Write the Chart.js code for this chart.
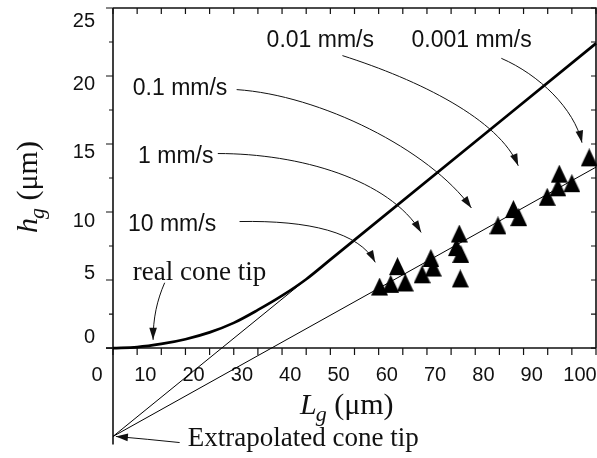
<!DOCTYPE html>
<html>
<head>
<meta charset="utf-8">
<script src="https://cdn.jsdelivr.net/npm/chart.js@4.4.1/dist/chart.umd.min.js"></script>
<style>
  html, body { margin: 0; padding: 0; background: #fff; overflow: hidden; }
  canvas { display: block; }
</style>
</head>
<body>
<canvas id="chart" width="597" height="458"></canvas>
<script>
// ── DATA ─────────────────────────────────────────────────────────────────────

const X_TICKS  = [0, 10, 20, 30, 40, 50, 60, 70, 80, 90, 100];
const X_MINOR  = [0, 5, 10, 15, 20, 25, 30, 35, 40, 45, 50, 55, 60, 65, 70, 75, 80, 85, 90, 95, 100];
const Y_TICKS  = [0, 5, 10, 15, 20, 25];
const Y_MINOR  = [0, 2.5, 5, 7.5, 10, 12.5, 15, 17.5, 20, 22.5, 25];

// measured groove length / height (triangles)
const POINTS_LG = [55.2, 57.5, 58.9, 60.5, 64.0, 65.8, 66.3, 71.1, 71.7, 72.0, 71.9, 79.7, 82.9, 84.0, 89.9, 92.1, 92.4, 95.0, 98.6];
const POINTS_HG = [ 4.3,  4.5,  5.8,  4.6,  5.2,  6.4,  5.7,  7.2,  8.2,  6.7,  4.9,  8.8, 10.0,  9.4, 10.9, 11.6, 12.6, 11.9, 13.8];

// real cone tip profile (thick line)
const CONE_LG = [0, 5,    10,  15,   20,   25,   30,  35,   40,   45,  100];
const CONE_HG = [0, 0.07, 0.3, 0.65, 1.15, 1.85, 2.8, 3.85, 5.06, 6.5, 22.4];

// thin construction lines from the extrapolated tip
const TANGENT_LG = [0, 44];
const TANGENT_HG = [-6.5, 6.2];
const FIT_LG = [0, 100];
const FIT_HG = [-6.5, 13.3];

// ── STYLE ────────────────────────────────────────────────────────────────────

const INK   = '#111';
const SANS  = '"Liberation Sans", Arial, sans-serif';
const SERIF = '"Liberation Serif", "Times New Roman", serif';
const Y_LABEL_SHIFT = [-5, -1, 15, 14, 14, 19];   // baseline offset from each tick, px

// annotations: text anchor and arrow bezier, both in data units
const NOTES = [
  { text: '0.01 mm/s',  font: '23px ' + SANS, at: [31.8, 22.1],
    arrow: [[47.5, 21.5], [63.4, 19.7], [80.0, 16.8], [83.9, 13.4]] },
  { text: '0.001 mm/s', font: '23px ' + SANS, at: [61.8, 22.1],
    arrow: [[80.4, 21.3], [88.2, 20.1], [95.5, 17.6], [97.1, 15.1]] },
  { text: '0.1 mm/s',   font: '23px ' + SANS, at: [4.1, 18.6],
    arrow: [[25.6, 19.0], [42.8, 18.6], [65.5, 14.6], [74.2, 10.3]] },
  { text: '1 mm/s',     font: '23px ' + SANS, at: [5.2, 13.6],
    arrow: [[21.7, 14.3], [38.6, 14.3], [57.2, 12.4], [63.8, 8.5]] },
  { text: '10 mm/s',    font: '23px ' + SANS, at: [3.1, 8.6],
    arrow: [[26.2, 9.3], [40.7, 9.4], [51.0, 8.5], [54.3, 6.3]] },
  { text: 'real cone tip', font: '27px ' + SERIF, at: [4.1, 5.0],
    arrow: [[10.7, 4.8], [9.1, 3.5], [8.3, 2.2], [8.3, 0.6]] },
  { text: 'Extrapolated cone tip', font: '27px ' + SERIF, at: [15.5, -7.2],
    arrow: [[13.8, -6.95], [9.4, -6.8], [5.0, -6.62], [0.6, -6.5]] },
];

function xy(xs, ys) { return xs.map((x, i) => ({ x, y: ys[i] })); }

// filled triangle marker, centroid at the canvas centre
function makeTriangle(w, h) {
  const c = document.createElement('canvas');
  c.width = w;
  c.height = Math.round(h * 4 / 3);
  const g = c.getContext('2d');
  g.fillStyle = '#000';
  g.beginPath();
  g.moveTo(w / 2, 0);
  g.lineTo(w, h);
  g.lineTo(0, h);
  g.closePath();
  g.fill();
  return c;
}

function drawArrow(ctx, pts) {
  const [a, b, c, d] = pts;
  ctx.beginPath();
  ctx.moveTo(a[0], a[1]);
  ctx.bezierCurveTo(b[0], b[1], c[0], c[1], d[0], d[1]);
  ctx.stroke();
  const ang = Math.atan2(d[1] - c[1], d[0] - c[0]);
  const L = 12, W = 3.8;
  ctx.beginPath();
  ctx.moveTo(d[0], d[1]);
  ctx.lineTo(d[0] - L * Math.cos(ang) + W * Math.sin(ang), d[1] - L * Math.sin(ang) - W * Math.cos(ang));
  ctx.lineTo(d[0] - L * Math.cos(ang) - W * Math.sin(ang), d[1] - L * Math.sin(ang) + W * Math.cos(ang));
  ctx.closePath();
  ctx.fill();
}

function drawTitle(ctx, x, y, main, sub, rest, size) {
  ctx.textAlign = 'left';
  ctx.textBaseline = 'alphabetic';
  ctx.font = `italic ${size}px ${SERIF}`;
  ctx.fillText(main, x, y);
  x += ctx.measureText(main).width - 1;
  ctx.font = `italic ${Math.round(size * 0.72)}px ${SERIF}`;
  ctx.fillText(sub, x, y + size * 0.22);
  x += ctx.measureText(sub).width;
  ctx.font = `${size}px ${SERIF}`;
  ctx.fillText(rest, x, y);
}

// ── frame, ticks, tick labels, titles
const framePlugin = {
  id: 'frame',
  beforeDatasetsDraw(chart) {
    const { ctx, chartArea: area, scales: { x, y } } = chart;
    const x0 = x.getPixelForValue(0), x1 = x.getPixelForValue(100);
    const yTop = y.getPixelForValue(25), y0 = y.getPixelForValue(0);
    ctx.save();
    ctx.strokeStyle = INK;
    ctx.fillStyle = INK;
    ctx.lineWidth = 1.6;
    ctx.beginPath();
    ctx.moveTo(x0, area.top); ctx.lineTo(x0, area.bottom);
    ctx.moveTo(x0, yTop); ctx.lineTo(x1, yTop); ctx.lineTo(x1, y0);
    ctx.moveTo(x0 - 7, y0); ctx.lineTo(x1, y0);
    ctx.stroke();

    ctx.lineWidth = 1.2;
    ctx.beginPath();
    X_MINOR.forEach(v => {
      const px = x.getPixelForValue(v);
      ctx.moveTo(px, yTop); ctx.lineTo(px, yTop + 6);
      ctx.moveTo(px, y0);   ctx.lineTo(px, y0 + 7);
    });
    Y_MINOR.forEach(v => {
      const py = y.getPixelForValue(v);
      ctx.moveTo(x0, py); ctx.lineTo(x0 - (v % 5 === 0 ? 7 : 4), py);
      ctx.moveTo(x1, py); ctx.lineTo(x1 - 5, py);
    });
    ctx.stroke();

    ctx.font = '20px ' + SANS;
    ctx.textBaseline = 'alphabetic';
    ctx.textAlign = 'center';
    X_TICKS.forEach(v => ctx.fillText(String(v), x.getPixelForValue(v) - 16, y0 + 33));
    ctx.textAlign = 'right';
    Y_TICKS.forEach((v, i) => ctx.fillText(String(v), x0 - 18, y.getPixelForValue(v) + Y_LABEL_SHIFT[i]));

    drawTitle(ctx, 300, 414, 'L', 'g', ' (\u03bcm)', 30);
    ctx.save();
    ctx.translate(37, 233);
    ctx.rotate(-Math.PI / 2);
    drawTitle(ctx, 0, 0, 'h', 'g', ' (\u03bcm)', 30);
    ctx.restore();
    ctx.restore();
  },
  afterDatasetsDraw(chart) {
    const { ctx, scales: { x, y } } = chart;
    ctx.save();
    ctx.fillStyle = INK;
    ctx.strokeStyle = INK;
    ctx.lineWidth = 1;
    ctx.textAlign = 'left';
    ctx.textBaseline = 'alphabetic';
    NOTES.forEach(n => {
      ctx.font = n.font;
      ctx.fillText(n.text, x.getPixelForValue(n.at[0]), y.getPixelForValue(n.at[1]));
      drawArrow(ctx, n.arrow.map(p => [x.getPixelForValue(p[0]), y.getPixelForValue(p[1])]));
    });
    ctx.restore();
  },
};

new Chart(document.getElementById('chart'), {
  type: 'scatter',
  data: {
    datasets: [
      {
        label: 'real cone tip',
        data: xy(CONE_LG, CONE_HG),
        showLine: true,
        borderColor: '#000',
        borderWidth: 2.7,
        pointRadius: 0,
        cubicInterpolationMode: 'monotone',
        clip: false,
      },
      {
        label: 'tangent',
        data: xy(TANGENT_LG, TANGENT_HG),
        showLine: true,
        borderColor: '#000',
        borderWidth: 1,
        pointRadius: 0,
        clip: false,
      },
      {
        label: 'fit',
        data: xy(FIT_LG, FIT_HG),
        showLine: true,
        borderColor: '#000',
        borderWidth: 1,
        pointRadius: 0,
        clip: false,
      },
      {
        label: 'h_g',
        data: xy(POINTS_LG, POINTS_HG),
        pointStyle: makeTriangle(17, 18),
        pointRadius: 10,
        clip: false,
      },
    ],
  },
  options: {
    responsive: false,
    animation: false,
    layout: { autoPadding: false, padding: { left: 113, top: 8, right: 1, bottom: 13.4 } },
    scales: {
      x: { type: 'linear', min: 0, max: 100, display: false },
      y: { type: 'linear', min: -7.1, max: 25, display: false },
    },
    plugins: {
      legend: { display: false },
      tooltip: { enabled: false },
    },
  },
  plugins: [framePlugin],
});
</script>
</body>
</html>
